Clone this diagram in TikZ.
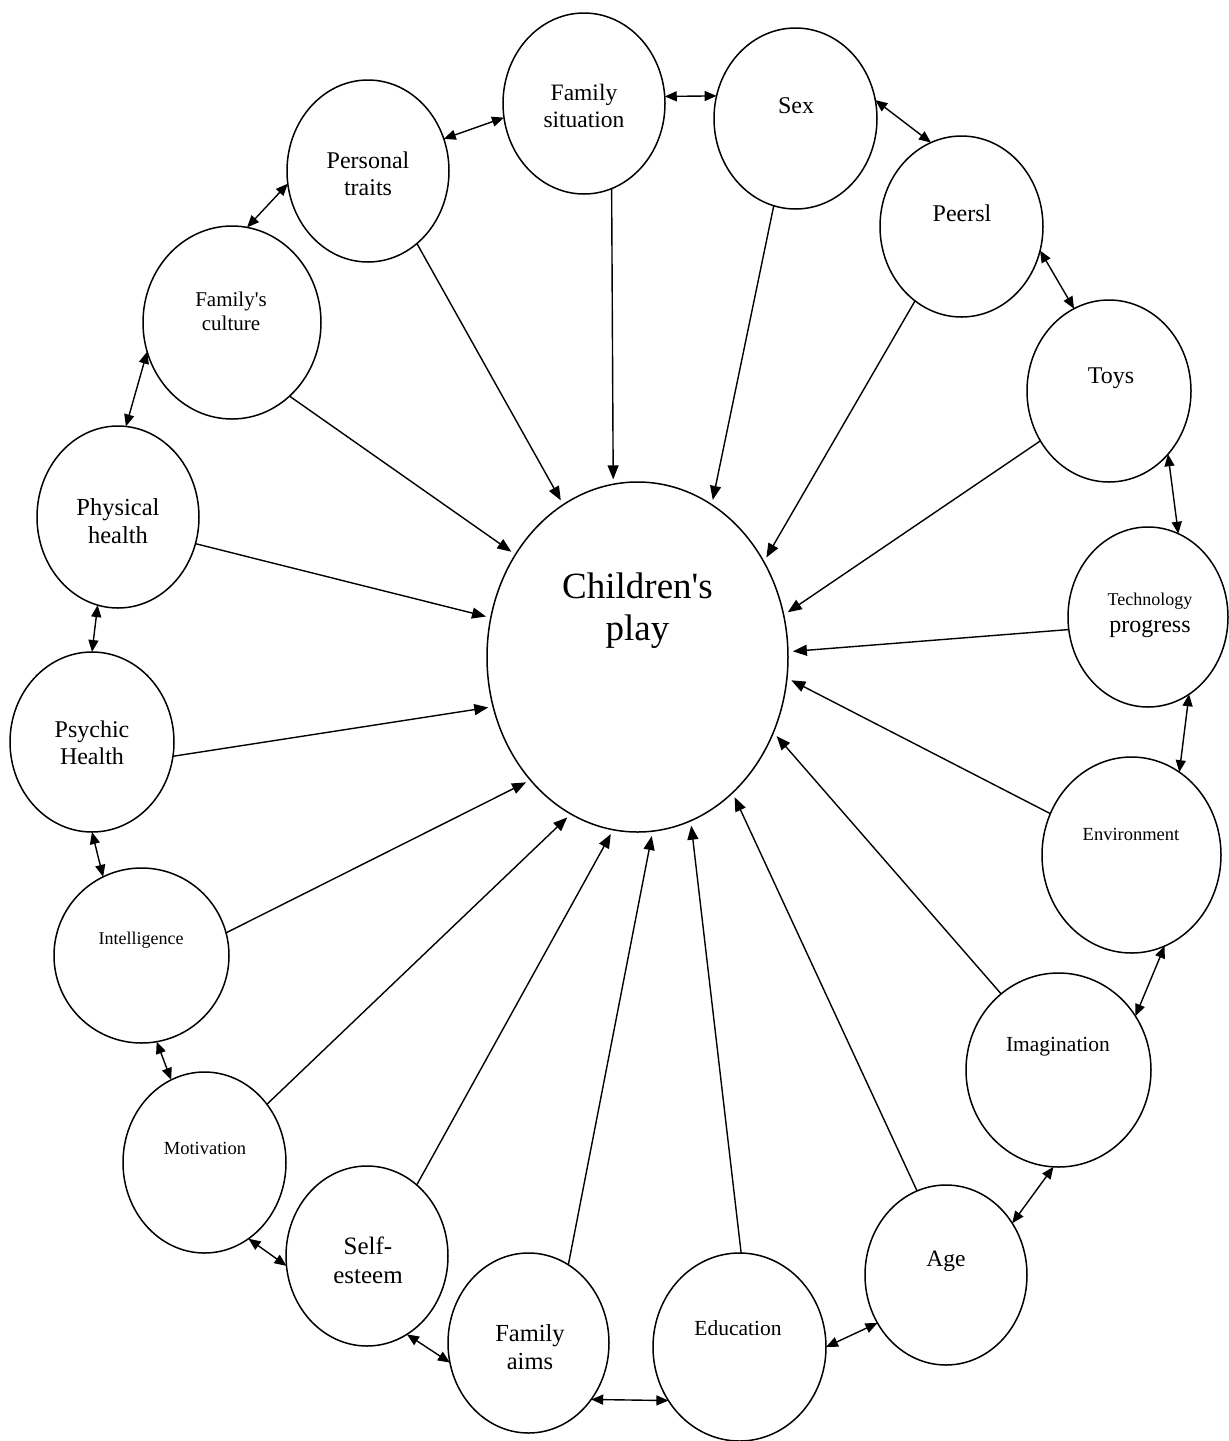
\documentclass[tikz,border=0pt]{standalone}
\usepackage{fontspec}
\setmainfont{Liberation Serif}
\newfontfamily\plainq{Liberation Serif}
\usetikzlibrary{shapes.geometric,arrows.meta}
\tikzset{
  blob/.style={ellipse, draw, line width=1.5pt, inner sep=0pt, outer sep=0pt},
  lab/.style={align=center, inner sep=0pt, font=\fontsize{24}{27}\selectfont},
  flow/.style={-{Triangle[length=14pt,width=11pt]}, line width=1.4pt, shorten >=5pt},
  link/.style={{Triangle[length=12pt,width=10pt]}-{Triangle[length=12pt,width=10pt]}, line width=1.4pt}
}
\newcommand{\fsz}[1]{\fontsize{#1}{1.15\dimexpr#1pt\relax}\selectfont}
\newcommand{\apos}{{\plainq'}}
\begin{document}
\begin{tikzpicture}[x=1pt,y=-1pt]
\useasboundingbox (0,0) rectangle (1229,1441);
% ellipses
\node[blob, minimum width=301pt, minimum height=350pt] (cp) at (637.5,657) {};
\node[blob, minimum width=162pt, minimum height=182pt] (pt) at (368,171) {};
\node[blob, minimum width=162pt, minimum height=181pt] (fs) at (584,103.5) {};
\node[blob, minimum width=163pt, minimum height=181pt] (sx) at (795.5,118.5) {};
\node[blob, minimum width=163pt, minimum height=181pt] (pe) at (961.5,226.5) {};
\node[blob, minimum width=164pt, minimum height=182pt] (ty) at (1109,391) {};
\node[blob, minimum width=160pt, minimum height=180pt] (tp) at (1148,617) {};
\node[blob, minimum width=179pt, minimum height=196pt] (en) at (1131.5,855) {};
\node[blob, minimum width=185pt, minimum height=194pt] (im) at (1058.5,1070) {};
\node[blob, minimum width=162pt, minimum height=180pt] (ag) at (946,1275) {};
\node[blob, minimum width=173pt, minimum height=188pt] (ed) at (739.5,1347) {};
\node[blob, minimum width=161pt, minimum height=180pt] (fa) at (528.5,1343) {};
\node[blob, minimum width=162pt, minimum height=180pt] (se) at (367,1256) {};
\node[blob, minimum width=163pt, minimum height=181pt] (mo) at (204.5,1162.5) {};
\node[blob, minimum width=175pt, minimum height=175pt] (il) at (141.5,955.5) {};
\node[blob, minimum width=164pt, minimum height=180pt] (ps) at (92,742) {};
\node[blob, minimum width=162pt, minimum height=182pt] (ph) at (118,517) {};
\node[blob, minimum width=178pt, minimum height=193pt] (fc) at (232,322.5) {};
% labels
\node[lab, font=\fontsize{37}{42}\selectfont] (cpt) at (637.5,611) {Children\apos s\\play};
\node[lab] (ptt) at (368,174) {Personal\\traits};
\node[lab, font=\fsz{23.5}] (fst) at (584,106) {Family\\situation};
\node[lab] (sxt) at (796,106) {Sex};
\node[lab] (pet) at (962,213) {Peersl};
\node[lab] (tyt) at (1111,378) {Toys};
\node[lab] (tpt) at (1150,615) {{\fsz{18}Technology}\\progress};
\node[lab, font=\fsz{18.5}] (ent) at (1131,834) {Environment};
\node[lab, font=\fsz{21.5}] (imt) at (1058,1047) {Imagination};
\node[lab, font=\fsz{23.5}] (agt) at (946,1261) {Age};
\node[lab, font=\fsz{21.5}] (edt) at (738,1328) {Education};
\node[lab, font=\fsz{24.5}] (fat) at (530,1347) {Family\\aims};
\node[lab, font=\fsz{25}] (set) at (368,1260) {Self-\\esteem};
\node[lab, font=\fsz{18.5}] (mot) at (205,1148) {Motivation};
\node[lab, font=\fsz{18}] (ilt) at (141,940) {Intelligence};
\node[lab] (pst) at (92,743) {Psychic\\Health};
\node[lab, font=\fsz{24.5}] (pht) at (118,521) {Physical\\health};
\node[lab, font=\fsz{21}] (fct) at (231,311) {Family\apos s\\culture};
% influences
\draw[flow] (pt.-56.7) -- (cp.116.4);
\draw[flow] (fs.-72.7) -- (cp.98.5);
\draw[flow] (sx.-104.9) -- (cp.64.2);
\draw[flow] (pe.-122.7) -- (cp.37.0);
\draw[flow] (ty.-144.4) -- (cp.16.8);
\draw[flow] (tp.189.2) -- (cp.2.25);
\draw[flow] (en.153.9) -- (cp.-8.7);
\draw[flow] (im.127.7) -- (cp.-29.9);
\draw[flow] (ag.109.6) -- (cp.-55.5);
\draw[flow] (ed.89.7) -- (cp.-72.8);
\draw[flow] (fa.63.1) -- (cp.-85.0);
\draw[flow] (se.55.1) -- (cp.-98.2);
\draw[flow] (mo.43.6) -- (cp.-113.6);
\draw[flow] (il.15.0) -- (cp.-131.8);
\draw[flow] (ps.-10.4) -- (cp.-161.5);
\draw[flow] (ph.-19.8) -- (cp.165.7);
\draw[flow] (fc.-52.7) -- (cp.140.9);
% neighbour links
\draw[link] (fs.5.1) -- (sx.164.7);
\draw[link] (sx.13.6) -- (pe.110.1);
\draw[link] (pe.-17.0) -- (ty.113.8);
\draw[link] (ty.-47.7) -- (tp.70.8);
\draw[link] (tp.-62.3) -- (en.60.4);
\draw[link] (en.-70.3) -- (im.35.0);
\draw[link] (im.-93.2) -- (ag.38.0);
\draw[link] (ag.-145.6) -- (ed.0);
\draw[link] (ed.-143.9) -- (fa.-42.6);
\draw[link] (fa.-166.4) -- (se.-63.7);
\draw[link] (se.-173.7) -- (mo.-60.7);
\draw[link] (mo.112.8) -- (il.-80.2);
\draw[link] (il.116.7) -- (ps.-90);
\draw[link] (ps.90) -- (ph.-103.4);
\draw[link] (ph.85.7) -- (fc.-161.7);
\draw[link] (fc.81.7) -- (pt.-171.6);
\draw[link] (pt.23.1) -- (fs.-170.8);
\end{tikzpicture}
\end{document}
